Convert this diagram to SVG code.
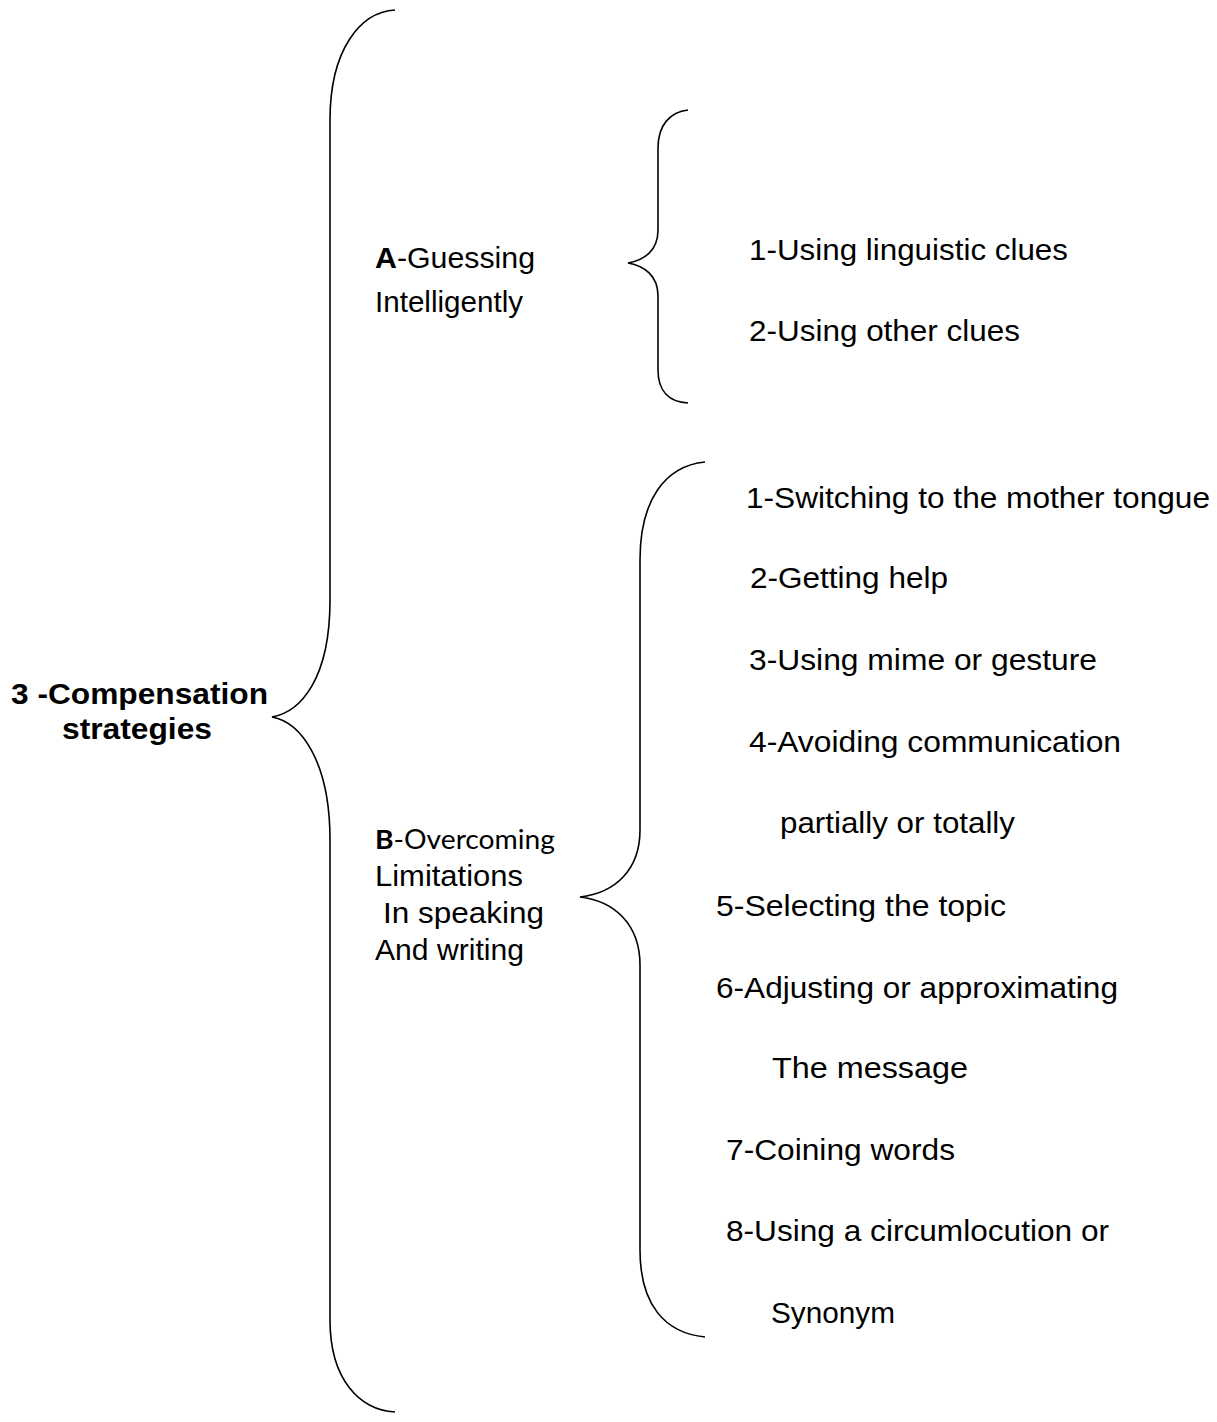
<svg xmlns="http://www.w3.org/2000/svg" width="1217" height="1422" viewBox="0 0 1217 1422">
<style>
.br{fill:none;stroke:#000;stroke-width:1.6}
.t{font-family:"Liberation Sans",Arial,sans-serif;font-size:29px;fill:#000}
.b{font-weight:bold}
.c{font-family:Lato,"Open Sans",sans-serif;font-size:27px;fill:#000}
</style>
<rect width="1217" height="1422" fill="#fff"/>
<g id="connectors">
<path class="br" d="M395,10 C360,12 330,50 330,120 L330,600 C330,680 300,712 272,717 C300,722 330,760 330,840 L330,1320 C330,1380 360,1410 395,1412"/>
<path class="br" d="M688,110 C670,112 658,125 658,148 L658,230 C658,250 645,260 628,263 C645,266 658,276 658,296 L658,370 C658,392 670,402 688,403"/>
<path class="br" d="M705,462 C665,466 640,500 640,560 L640,830 C640,870 615,893 580,897 C615,901 640,925 640,965 L640,1250 C640,1305 665,1333 705,1337"/>
</g>
<g id="root">
<text class="t b" font-size="28" x="11" y="704" textLength="257" lengthAdjust="spacingAndGlyphs">3 -Compensation</text>
<text class="t b" font-size="28" x="137" y="739" text-anchor="middle" textLength="150" lengthAdjust="spacingAndGlyphs">strategies</text>
</g>
<g id="nodeA">
<text class="t" x="375" y="268" textLength="160" lengthAdjust="spacingAndGlyphs"><tspan class="b">A</tspan>-Guessing</text>
<text class="t" x="375" y="312" textLength="148" lengthAdjust="spacingAndGlyphs">Intelligently</text>
</g>
<g id="nodeB">
<text class="c" x="375" y="849" textLength="180" lengthAdjust="spacingAndGlyphs"><tspan font-weight="bold">B</tspan>-Overcoming</text>
<text class="t" x="375" y="886" textLength="148" lengthAdjust="spacingAndGlyphs">Limitations</text>
<text class="t" x="383" y="923" textLength="161" lengthAdjust="spacingAndGlyphs">In speaking</text>
<text class="t" x="375" y="960" textLength="149" lengthAdjust="spacingAndGlyphs">And writing</text>
</g>
<g id="itemsA">
<text class="t" x="749" y="260" textLength="319" lengthAdjust="spacingAndGlyphs">1-Using linguistic clues</text>
<text class="t" x="749" y="341" textLength="271" lengthAdjust="spacingAndGlyphs">2-Using other clues</text>
</g>
<g id="itemsB">
<text class="t" x="746" y="508" textLength="464" lengthAdjust="spacingAndGlyphs">1-Switching to the mother tongue</text>
<text class="t" x="750" y="588" textLength="198" lengthAdjust="spacingAndGlyphs">2-Getting help</text>
<text class="t" x="749" y="670" textLength="348" lengthAdjust="spacingAndGlyphs">3-Using mime or gesture</text>
<text class="t" x="749" y="752" textLength="372" lengthAdjust="spacingAndGlyphs">4-Avoiding communication</text>
<text class="t" x="780" y="833" textLength="235" lengthAdjust="spacingAndGlyphs">partially or totally</text>
<text class="t" x="716" y="916" textLength="290" lengthAdjust="spacingAndGlyphs">5-Selecting the topic</text>
<text class="t" x="716" y="998" textLength="402" lengthAdjust="spacingAndGlyphs">6-Adjusting or approximating</text>
<text class="t" x="772" y="1078" textLength="196" lengthAdjust="spacingAndGlyphs">The message</text>
<text class="t" x="726" y="1160" textLength="229" lengthAdjust="spacingAndGlyphs">7-Coining words</text>
<text class="t" x="726" y="1241" textLength="383" lengthAdjust="spacingAndGlyphs">8-Using a circumlocution or</text>
<text class="t" x="771" y="1323" textLength="124" lengthAdjust="spacingAndGlyphs">Synonym</text>
</g>
</svg>
